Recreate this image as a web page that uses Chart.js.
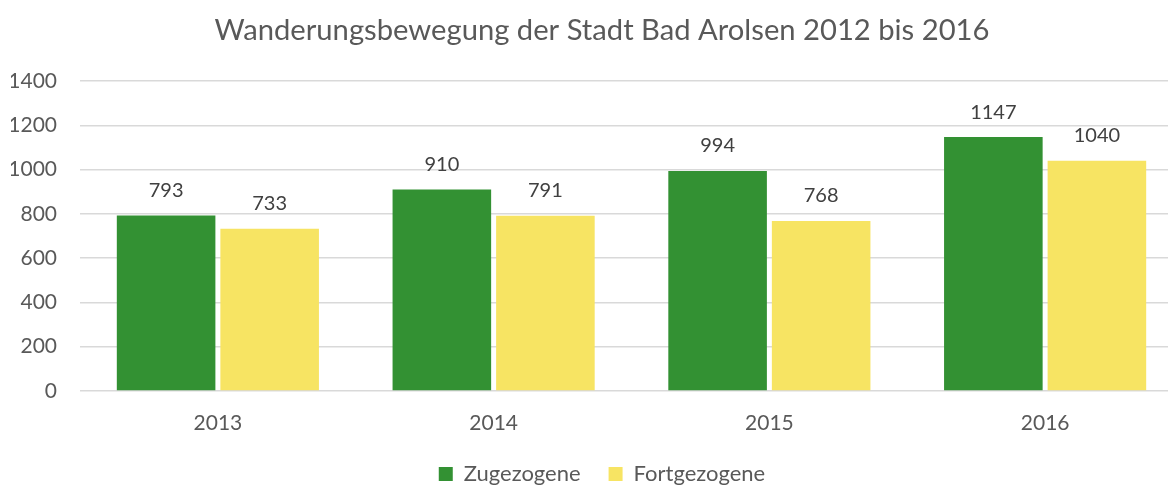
<!DOCTYPE html>
<html>
<head>
<meta charset="utf-8">
<script src="https://cdn.jsdelivr.net/npm/chart.js@4"></script>
<style>
html,body{margin:0;padding:0;background:#fff;overflow:hidden;}
#wrap{width:1206px;height:486px;}
</style>
</head>
<body>
<div id="wrap"><canvas id="c" width="1206" height="486"></canvas></div>
<script>
const categories = ["2013", "2014", "2015", "2016"];
const zugezogene = [793, 910, 994, 1147];
const fortgezogene = [733, 791, 768, 1040];
const seriesNames = ["Zugezogene", "Fortgezogene"];
const titleText = "Wanderungsbewegung der Stadt Bad Arolsen 2012 bis 2016";

const FONT = "Lato, Carlito, 'Open Sans', sans-serif";

const valueLabels = {
  id: "valueLabels",
  afterDatasetsDraw(chart) {
    const ctx = chart.ctx;
    ctx.save();
    ctx.font = "20px " + FONT;
    ctx.fillStyle = "#404040";
    ctx.textAlign = "center";
    ctx.textBaseline = "bottom";
    chart.data.datasets.forEach((ds, i) => {
      const meta = chart.getDatasetMeta(i);
      meta.data.forEach((el, j) => {
        ctx.fillText(String(ds.data[j]), el.x, el.y - 15);
      });
    });
    ctx.restore();
  }
};

const legendFit = {
  id: "legendFit",
  beforeInit(chart) {
    const orig = chart.legend.fit;
    chart.legend.fit = function () {
      orig.call(this);
      this.height = 51;
    };
  }
};

new Chart(document.getElementById("c"), {
  type: "bar",
  data: {
    labels: categories,
    datasets: [
      { label: seriesNames[0], data: zugezogene, backgroundColor: "#339133",
        barPercentage: 0.952, categoryPercentage: 0.751 },
      { label: seriesNames[1], data: fortgezogene, backgroundColor: "#F7E463",
        barPercentage: 0.952, categoryPercentage: 0.751 }
    ]
  },
  options: {
    responsive: false,
    devicePixelRatio: 1,
    animation: false,
    layout: { padding: { left: 11, right: 13, top: 0, bottom: 0 } },
    plugins: {
      title: {
        display: true, text: titleText, color: "#595959",
        font: { family: FONT, size: 29.2, weight: "normal" },
        padding: { top: 13, bottom: 33 }
      },
      legend: {
        position: "bottom",
        labels: {
          color: "#595959",
          font: { family: FONT, size: 22 },
          boxWidth: 14, boxHeight: 14, padding: 28
        }
      },
      tooltip: { enabled: false }
    },
    scales: {
      x: {
        afterFit(scale) { scale.height = 44; },
        grid: { display: false, drawTicks: false },
        border: { display: false },
        ticks: { color: "#595959", font: { family: FONT, size: 21 }, padding: 20 }
      },
      y: {
        min: 0, max: 1400,
        afterFit(scale) { scale.width = 69; },
        grid: { color: "#d9d9d9", lineWidth: 1.5, drawTicks: false },
        border: { display: false },
        ticks: { stepSize: 200, color: "#595959", font: { family: FONT, size: 21 }, padding: 23,
          callback: (v) => String(v) }
      },
      y2: {
        position: "right",
        min: 0, max: 1400,
        afterFit(scale) { scale.width = 10; },
        grid: { display: false, drawTicks: false },
        border: { display: false },
        ticks: { display: false }
      }
    }
  },
  plugins: [valueLabels, legendFit]
});
</script>
</body>
</html>
